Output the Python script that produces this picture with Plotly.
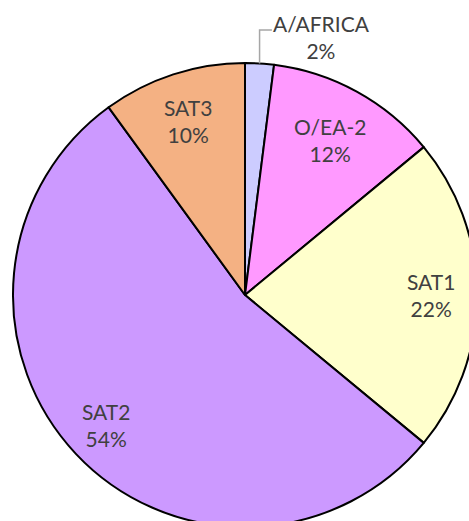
import math

import plotly.graph_objects as go

# slice data, clockwise from 12 o'clock
labels = ["A/AFRICA", "O/EA-2", "SAT1", "SAT2", "SAT3"]
values = [2, 12, 22, 54, 10]
colors = ["#CCCCFF", "#FF99FF", "#FFFFCC", "#CC99FF", "#F4B183"]

# how far out (fraction of radius) the inside labels sit
label_r = [None, 0.76, 0.80, 0.82, 0.79]

FONT = dict(family="Lato, Carlito, sans-serif", size=21, color="#404040")
# pie is bigger than the window, so the figure overflows it a little
W, H = 477, 535
L, T, SIZE = 13, 63, 464

fig = go.Figure(
    go.Pie(
        labels=labels,
        values=values,
        sort=False,
        direction="clockwise",
        rotation=0,
        marker=dict(colors=colors, line=dict(color="black", width=2)),
        textinfo="none",
        hoverinfo="label+percent",
        showlegend=False,
    )
)

total = sum(values)
start = 0.0
annotations = []
for lab, v, f in zip(labels, values, label_r):
    pct = v / total
    mid = (start + pct / 2) * 2 * math.pi
    start += pct
    text = f"{lab}<br>{round(pct * 100)}%"
    if f is None:
        # small slice: label outside with an elbow leader
        ex = 0.5 + 0.5 * math.sin(mid)
        ey = 0.5 + 0.5 * math.cos(mid)
        fig.add_shape(
            type="path",
            xref="paper",
            yref="paper",
            path=f"M {ex},{ey} L {ex},1.071 L 0.558,1.071",
            line=dict(color="#A6A6A6", width=1.5),
        )
        annotations.append(
            dict(x=0.665, y=1.055, text=text, showarrow=False, font=FONT,
                 xref="paper", yref="paper", xanchor="center", yanchor="middle")
        )
        continue
    annotations.append(
        dict(
            x=0.5 + 0.5 * f * math.sin(mid),
            y=0.5 + 0.5 * f * math.cos(mid),
            text=text,
            showarrow=False,
            font=FONT,
            xref="paper",
            yref="paper",
            xanchor="center",
            yanchor="middle",
        )
    )

fig.update_layout(
    width=W,
    height=H,
    margin=dict(l=L, t=T, r=W - L - SIZE, b=H - T - SIZE, pad=0),
    paper_bgcolor="white",
    plot_bgcolor="white",
    annotations=annotations,
)

fig.write_html(
    "out.html",
    config={"displayModeBar": False},
    post_script="document.body.style.margin='0';"
    "document.documentElement.style.overflow='hidden';",
)
